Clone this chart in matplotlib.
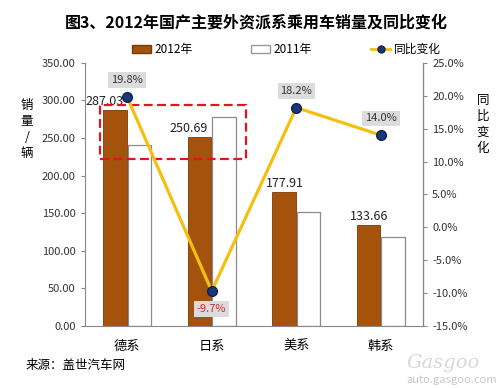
import matplotlib
matplotlib.use("Agg")
import matplotlib.pyplot as plt
from matplotlib.patches import Rectangle, Patch
from matplotlib.lines import Line2D
import numpy as np

plt.rcParams['font.family'] = ['Noto Sans CJK SC', 'DejaVu Sans']

# 数据
categories = ['德系', '日系', '美系', '韩系']
sales_2012 = [287.03, 250.69, 177.91, 133.66]
sales_2011 = [241.0, 278.5, 151.3, 118.0]
yoy_change = [19.8, -9.7, 18.2, 14.0]
yoy_labels = ['19.8%', '-9.7%', '18.2%', '14.0%']
left_ticks = [0, 50, 100, 150, 200, 250, 300, 350]
right_ticks = [-15, -10, -5, 0, 5, 10, 15, 20, 25]

fig = plt.figure(figsize=(5.02, 3.88), dpi=100)
ax = fig.add_axes([0.169, 0.160, 0.674, 0.678])
ax2 = ax.twinx()

x = np.arange(len(categories))
w = 0.28
brown = '#A4520C'
ax.bar(x - w / 2 - 0.005, sales_2012, w, color=brown, edgecolor='#7A3A06', linewidth=0.6, zorder=2)
ax.bar(x + w / 2 + 0.005, sales_2011, w, color='white', edgecolor='#8C8C8C', linewidth=0.9, zorder=2)

ax.set_xlim(-0.5, 3.5)
ax.set_ylim(0, 350)
ax.set_yticks(left_ticks)
ax.set_yticklabels([f'{v:.2f}' for v in left_ticks], fontsize=8, color='#333333')
ax.set_xticks(x)
ax.set_xticklabels(categories, fontsize=9.5)
ax.tick_params(axis='x', length=0, pad=10)
ax.tick_params(axis='y', length=3, color='#888888')

ax.spines['top'].set_visible(False)
ax2.spines['top'].set_visible(False)
for s in ['left', 'bottom']:
    ax.spines[s].set_color('#888888')
ax2.spines['right'].set_color('#888888')
ax2.spines['left'].set_visible(False)
ax2.spines['bottom'].set_visible(False)

# 销量标签
label_dx = [-0.13, -0.13, 0.0, 0.0]
for i, v in enumerate(sales_2012):
    ax.text(i - w / 2 + label_dx[i], v + 3, f'{v:.2f}', ha='center', va='bottom',
            fontsize=9, color='#222222', zorder=5)

# 红色虚线框
ax.add_patch(Rectangle((-0.32, 222), 1.725, 72, fill=False, edgecolor='#E0161E',
                       linestyle=(0, (4, 2)), linewidth=1.6, zorder=6))

# 同比变化折线
ax2.plot(x, yoy_change, color='#F5BF0F', linewidth=2.3, marker='o', markersize=7,
         markerfacecolor='#1B3778', markeredgecolor='#0E2255', zorder=4)
ax2.set_ylim(-15, 25)
ax2.set_yticks(right_ticks)
ax2.set_yticklabels([f'{v:.1f}%' for v in right_ticks], fontsize=8, color='#333333')
ax2.tick_params(axis='y', length=3, color='#888888')

for i, v in enumerate(yoy_change):
    if v < 0:
        ax2.text(i, v - 2.0, yoy_labels[i], ha='center', va='top', fontsize=8, color='#D42A2A',
                 bbox=dict(boxstyle='square,pad=0.25', facecolor='#DCDCDC', edgecolor='none'), zorder=7)
    else:
        ax2.text(i, v + 1.8, yoy_labels[i], ha='center', va='bottom', fontsize=8, color='#333333',
                 bbox=dict(boxstyle='square,pad=0.25', facecolor='#DCDCDC', edgecolor='none'), zorder=7)

# 轴标题（竖排）
fig.text(0.054, 0.665, '销\n量\n/\n辆', ha='center', va='center', fontsize=9, linespacing=1.3)
fig.text(0.962, 0.68, '同\n比\n变\n化', ha='center', va='center', fontsize=9, linespacing=1.3)

# 标题
fig.text(0.51, 0.943, '图3、2012年国产主要外资派系乘用车销量及同比变化', ha='center', va='center',
         fontsize=11.5, fontweight='bold')

# 图例
handles = [Patch(facecolor=brown, edgecolor='#7A3A06'),
           Patch(facecolor='white', edgecolor='#999999'),
           Line2D([0], [0], color='#F5BF0F', linewidth=2, marker='o', markersize=5,
                  markerfacecolor='#1B3778', markeredgecolor='#0E2255')]
fig.legend(handles, ['2012年', '2011年', '同比变化'], loc='center', bbox_to_anchor=(0.57, 0.872),
           ncol=3, frameon=False, fontsize=8.5, handlelength=1.6, handletextpad=0.3,
           columnspacing=5.0)

# 来源与水印
fig.text(0.05, 0.057, '来源：盖世汽车网', ha='left', va='center', fontsize=9)
fig.text(0.955, 0.065, 'Gasgoo', ha='right', va='center', fontsize=14, color='#D8D8D8',
         family='DejaVu Serif', style='italic')
fig.text(0.99, 0.008, 'auto.gasgoo.com', ha='right', va='bottom', fontsize=8, color='#C8C8C8')

fig.savefig('out.png', dpi=100)
